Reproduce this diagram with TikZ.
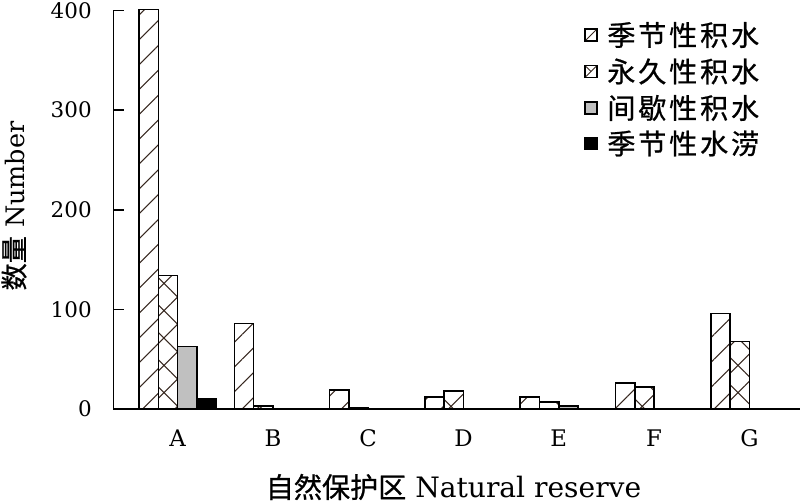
\documentclass[tikz,border=0pt]{standalone}
\usepackage{fontspec}
\setmainfont{DejaVu Serif}
\newfontfamily\cjk[FakeBold=0.8]{Noto Sans CJK SC}
\newfontfamily\cjkwide[LetterSpace=10,FakeBold=0.8]{Noto Sans CJK SC}
\usetikzlibrary{patterns.meta}
\definecolor{hatchbrown}{RGB}{55,40,32}
\definecolor{bargray}{RGB}{192,192,192}
\tikzset{
	bar/.style={draw=black, line width=0.85pt},
	seasonal/.style={bar, pattern={Lines[angle=45,distance=10pt,line width=0.6pt]}, pattern color=hatchbrown},
	permanent/.style={bar, pattern={Hatch[angle=45,distance=11pt,line width=0.6pt]}, pattern color=hatchbrown},
	intermittent/.style={bar, fill=bargray},
	waterlog/.style={bar, fill=black},
	axis/.style={draw=black, line width=0.85pt},
	ticklab/.style={font=\fontsize{12.2}{14}\selectfont, anchor=east, inner sep=0pt},
	catlab/.style={font=\fontsize{13}{15}\selectfont, inner sep=0pt},
	legbox/.style={draw=black, line width=0.75pt},
	legtext/.style={font=\cjkwide\fontsize{16}{19}\selectfont, anchor=west, inner sep=0pt}
}
\begin{document}
\begin{tikzpicture}[x=0.02cm, y=-0.02cm]
	\useasboundingbox (0,0) rectangle (800,502);
	
	% seasonal ponding
	\foreach \g/\v in {0/401, 1/86, 2/19, 3/12, 4/12, 5/26, 6/96}
		\draw[seasonal] ({139+95.3*\g},409) rectangle ({158.3+95.3*\g},{409-0.996*\v});
	
	% permanent ponding
	\foreach \g/\v in {0/134, 1/3, 2/1, 3/18, 4/7, 5/22, 6/68}
		\draw[permanent] ({158.3+95.3*\g},409) rectangle ({177.6+95.3*\g},{409-0.996*\v});
	
	% intermittent ponding
	\foreach \g/\v in {0/63, 4/3}
		\draw[intermittent] ({177.6+95.3*\g},409) rectangle ({196.9+95.3*\g},{409-0.996*\v});
	
	% seasonal waterlogging
	\draw[waterlog] (196.9,409) rectangle (216.2,{409-0.996*10});
	
	% axes
	\draw[axis] (113.3,10.6) -- (113.3,409) -- (800,409);
	\foreach \v in {0,100,...,400}{
		\draw[axis] (113.3,{409-0.996*\v}) -- ++(11,0);
		\node[ticklab] (tick\v) at (92,{409-0.996*\v}) {\v};
	}
	\foreach \g/\n in {0/A, 1/B, 2/C, 3/D, 4/E, 5/F, 6/G}
		\node[catlab] (cat\n) at ({177.6+95.3*\g},438) {\n};
	
	% axis titles
	\node[font=\fontsize{16}{19}\selectfont, inner sep=0pt] (xtitle) at (453.5,487)
		{{\cjk\fontsize{16}{19}\selectfont 自然保护区} Natural reserve};
	\node[font=\fontsize{14.5}{17}\selectfont, inner sep=0pt, rotate=90] (ytitle) at (14,206)
		{{\cjk\fontsize{15.5}{19}\selectfont 数量} Number};
	
	% legend
	\draw[legbox] (585,29) rectangle (597,41);
	\draw[hatchbrown, line width=0.5pt] (586,40) -- (596,30);
	\node[legtext] (legseasonal) at (607,35) {季节性积水};
	
	\draw[legbox] (585,65.5) rectangle (597,77.5);
	\draw[hatchbrown, line width=0.5pt] (586,76.5) -- (596,66.5);
	\draw[hatchbrown, line width=0.5pt] (586,66.5) -- (591,71.5);
	\node[legtext] (legpermanent) at (607,71.5) {永久性积水};
	
	\draw[legbox, fill=bargray] (585,102) rectangle (597,114);
	\node[legtext] (legintermittent) at (607,108) {间歇性积水};
	
	\draw[legbox, fill=black] (585,137.5) rectangle (597,149.5);
	\node[legtext] (legwaterlog) at (607,143.5) {季节性水涝};
\end{tikzpicture}
\end{document}
